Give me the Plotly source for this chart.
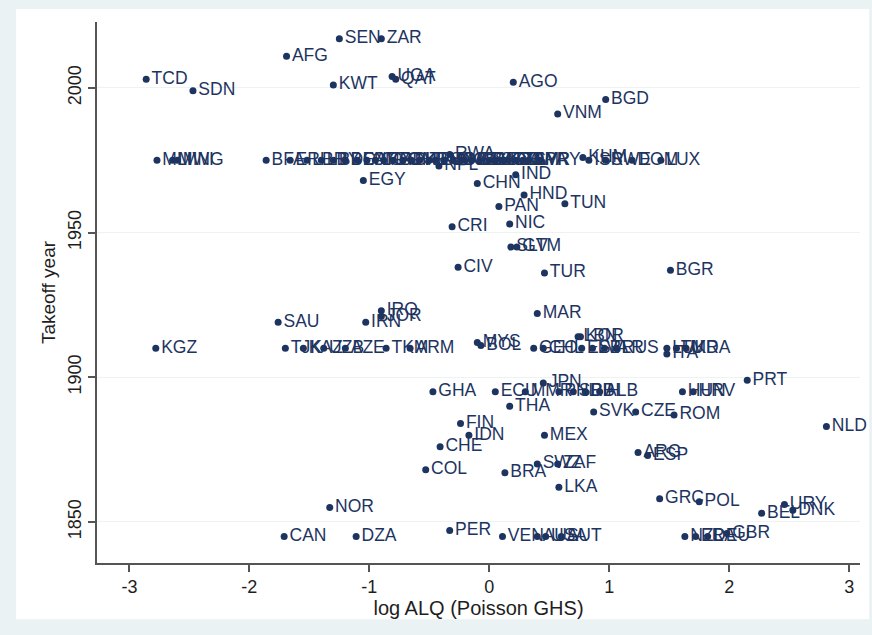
import plotly.graph_objects as go

# ---- data ----
codes = [
    "SEN", "ZAR", "AFG", "TCD", "SDN", "KWT", "UGA", "QAT", "AGO", "BGD", "VNM",
    "MLI", "MWI", "MNG", "BFA",
    "ERI", "LBR", "LBY", "BDI", "BEN", "CAF", "CMR", "COG", "GAB", "GIN", "GMB",
    "HTI", "KEN", "LAO", "LSO", "MDG", "MOZ", "NER", "NGA", "PAK", "SLE", "SOM",
    "TGO", "TZA", "YEM", "BWA", "SYR", "PRY", "RWA", "NPL",
    "KHM", "ISR", "SWE", "DOM", "LUX",
    "EGY", "IND", "CHN", "HND", "PAN", "TUN", "CRI", "NIC", "SLV", "GTM",
    "CIV", "TUR", "BGR",
    "IRQ", "JOR", "SAU", "IRN", "MAR",
    "KGZ", "TJK", "KAZ", "UZB", "AZE", "TKM", "ARM", "MYS", "BOL",
    "GEO", "CHL", "KOR", "LBN", "EST", "LVA", "BLR", "RUS", "LTU", "UKR", "MDA", "ITA",
    "PRT", "GHA", "ECU", "MMR", "JPN", "PHL", "SRB", "BIH", "ALB", "HUN", "HRV",
    "THA", "SVK", "CZE", "ROM", "FIN", "NLD", "IDN", "MEX", "CHE",
    "ARG", "ESP", "COL", "SWZ", "ZAF", "BRA", "LKA", "GRC", "POL",
    "URY", "DNK", "BEL", "NOR",
    "PER", "CAN", "DZA", "VEN", "AUS", "USA", "AUT", "NZL", "FRA", "DEU", "GBR",
]
log_alq = [
    -1.25, -0.90, -1.69, -2.86, -2.47, -1.30, -0.81, -0.78, 0.20, 0.97, 0.57,
    -2.77, -2.64, -2.60, -1.86,
    -1.66, -1.52, -1.40, -1.30, -1.20, -1.10, -1.02, -0.95, -0.88, -0.80, -0.72,
    -0.65, -0.58, -0.50, -0.45, -0.38, -0.30, -0.22, -0.15, -0.08, 0.00, 0.05,
    0.10, 0.15, 0.22, 0.28, 0.33, 0.42, -0.33, -0.42,
    0.78, 0.83, 0.97, 1.19, 1.43,
    -1.05, 0.22, -0.10, 0.29, 0.08, 0.63, -0.31, 0.17, 0.18, 0.23,
    -0.26, 0.46, 1.51,
    -0.90, -0.90, -1.76, -1.03, 0.40,
    -2.78, -1.70, -1.55, -1.38, -1.20, -0.86, -0.66, -0.10, -0.07,
    0.37, 0.45, 0.76, 0.74, 0.77, 0.86, 0.96, 1.06, 1.48, 1.56, 1.64, 1.48,
    2.15, -0.47, 0.05, 0.30, 0.45, 0.58, 0.70, 0.80, 0.92, 1.61, 1.70,
    0.17, 0.87, 1.22, 1.54, -0.24, 2.81, -0.17, 0.46, -0.41,
    1.24, 1.32, -0.53, 0.40, 0.57, 0.13, 0.58, 1.42, 1.75,
    2.46, 2.53, 2.27, -1.33,
    -0.33, -1.71, -1.11, 0.11, 0.40, 0.47, 0.60, 1.63, 1.72, 1.82, 1.98,
]
takeoff_year = [
    2017, 2017, 2011, 2003, 1999, 2001, 2004, 2003, 2002, 1996, 1991,
    1975, 1975, 1975, 1975,
    1975, 1975, 1975, 1975, 1975, 1975, 1975, 1975, 1975, 1975, 1975,
    1975, 1975, 1975, 1975, 1975, 1975, 1975, 1975, 1975, 1975, 1975,
    1975, 1975, 1975, 1975, 1975, 1975, 1977, 1973,
    1976, 1975, 1975, 1975, 1975,
    1968, 1970, 1967, 1963, 1959, 1960, 1952, 1953, 1945, 1945,
    1938, 1936, 1937,
    1923, 1921, 1919, 1919, 1922,
    1910, 1910, 1910, 1910, 1910, 1910, 1910, 1912, 1911,
    1910, 1910, 1914, 1914, 1910, 1910, 1910, 1910, 1910, 1910, 1910, 1908,
    1899, 1895, 1895, 1895, 1898, 1895, 1895, 1895, 1895, 1895, 1895,
    1890, 1888, 1888, 1887, 1884, 1883, 1880, 1880, 1876,
    1874, 1873, 1868, 1870, 1870, 1867, 1862, 1858, 1857,
    1856, 1854, 1853, 1855,
    1847, 1845, 1845, 1845, 1845, 1845, 1845, 1845, 1845, 1845, 1846,
]

x_ticks = [-3, -2, -1, 0, 1, 2, 3]
y_ticks = [1850, 1900, 1950, 2000]

NAVY = "#1d3461"
FONT = "Liberation Sans, Arial, Helvetica, sans-serif"
TXT = "#1e1e1e"

fig = go.Figure()
fig.add_trace(go.Scatter(
    x=log_alq, y=takeoff_year, text=codes,
    mode="markers+text", textposition="middle right",
    marker=dict(color=NAVY, size=7, line=dict(width=0)),
    textfont=dict(color=NAVY, size=17.5, family=FONT),
    cliponaxis=False, hoverinfo="text",
))

# light outer frame with white inner panel
fig.add_shape(type="rect", xref="paper", yref="paper",
              x0=-0.106, x1=1.012, y0=-0.104, y1=1.024,
              fillcolor="white", line=dict(width=0), layer="below")

fig.update_layout(
    width=872, height=635,
    margin=dict(l=97, r=12, t=22, b=72),
    paper_bgcolor="#eaf2f4", plot_bgcolor="white",
    showlegend=False,
    font=dict(family=FONT, color=TXT),
    xaxis=dict(
        range=[-3.27, 3.09], tickvals=x_ticks, ticktext=[str(v) for v in x_ticks],
        showgrid=False, zeroline=False,
        showline=True, linecolor="#555555", linewidth=1.5,
        ticks="outside", ticklen=7, tickcolor="#555555", tickwidth=1.5,
        tickfont=dict(size=18, color=TXT),
        title=dict(text="log ALQ (Poisson GHS)", font=dict(size=20, color=TXT), standoff=0),
    ),
    yaxis=dict(
        range=[1835.8, 2022.8], tickvals=y_ticks, ticktext=[str(v) for v in y_ticks],
        showgrid=True, gridcolor="#edf2f2", gridwidth=1.2, zeroline=False,
        showline=True, linecolor="#555555", linewidth=1.5,
        ticks="outside", ticklen=7, tickcolor="#555555", tickwidth=1.5,
        tickangle=-90,
        tickfont=dict(size=18, color=TXT),
        title=dict(text="Takeoff year", font=dict(size=19, color=TXT), standoff=4),
    ),
)

fig.write_html("out.html", config={"displayModeBar": False},
               post_script="document.body.style.margin='0px';")
